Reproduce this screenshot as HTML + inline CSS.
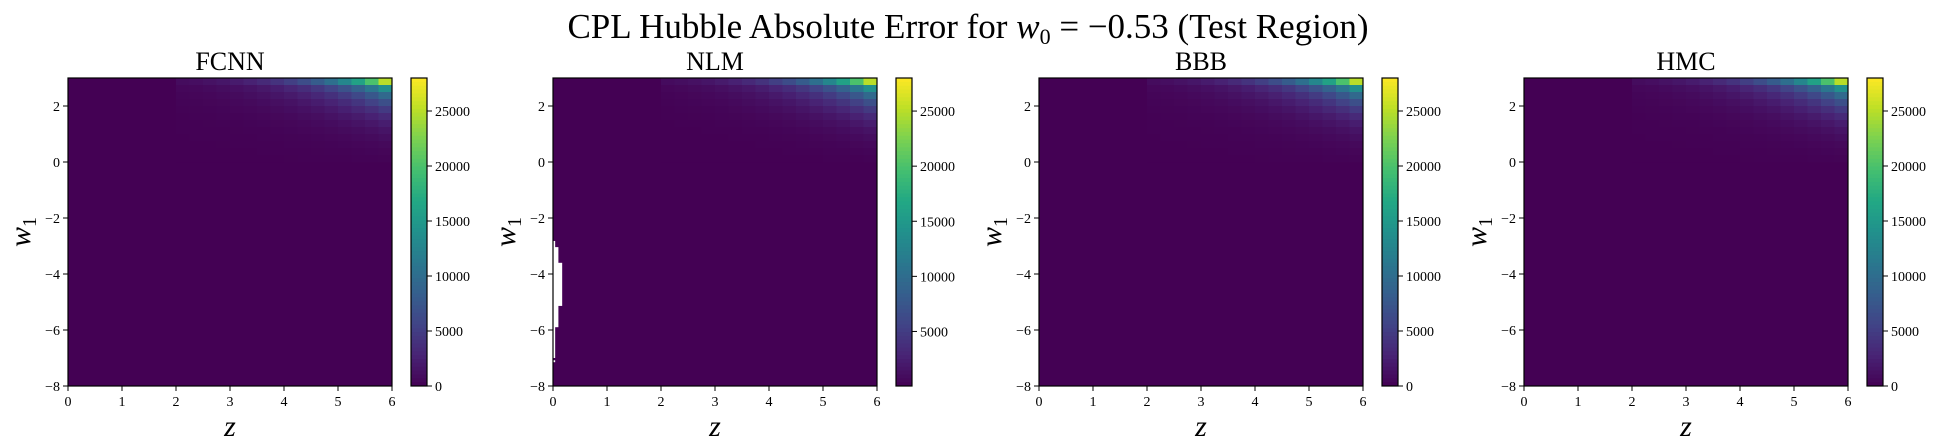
<!DOCTYPE html>
<html><head><meta charset="utf-8"><style>
html,body{margin:0;padding:0;background:#fff;}
svg{display:block;}
text{font-family:"Liberation Serif","DejaVu Serif",serif;fill:#000;}
</style></head><body>
<svg id="fig" width="1936" height="448" viewBox="0 0 1936 448" xmlns="http://www.w3.org/2000/svg">
<text x="968" y="38" font-size="35" text-anchor="middle">CPL Hubble Absolute Error for <tspan font-style="italic">w</tspan><tspan font-size="22" dy="6">0</tspan><tspan dy="-6"> = −0.53 (Test Region)</tspan></text>
</svg>
<script>
// ---- data ----
const panelTitles = ["FCNN", "NLM", "BBB", "HMC"];
const xTicks = [0, 1, 2, 3, 4, 5, 6];
const yTicks = [-8, -6, -4, -2, 0, 2];
const cbTicks = [0, 5000, 10000, 15000, 20000, 25000];
const cbTickLabels = ["0", "5000", "10000", "15000", "20000", "25000"];
const vmins = [0, 50, 0, 0];
const vmax = 28000;
// z-cell lower edges (width 0.25) for the coloured region, with column profile of error (top row)
const zCells = [2.0,2.25,2.5,2.75,3.0,3.25,3.5,3.75,4.0,4.25,4.5,4.75,5.0,5.25,5.5,5.75];
const topRowError = [860,1070,1340,1680,2100,2640,3300,4140,5180,6490,8120,10170,12740,15960,19980,25020];
// w1-cell upper edges (height 0.25) and relative scale per row
const w1Cells = [3.0,2.75,2.5,2.25,2.0,1.75,1.5,1.25,1.0,0.75,0.5,0.25];
const rowScale = [1,0.55,0.38,0.27,0.19,0.13,0.09,0.06,0.04,0.025,0.015,0.008];
// NLM invalid (white) region: [zMax, w1Low, w1High]
const nlmMask = [[0.04,-7.0,-2.82],[0.1,-5.9,-3.04],[0.17,-5.14,-3.6],[0.04,-7.15,-7.08]];

// ---- layout ----
const axLeft = [68, 553, 1039, 1524];
const axW = 324, axTop = 78, axBot = 386;
const cbOff = 343, cbW = 16;
const NS = "http://www.w3.org/2000/svg";
const svg = document.getElementById("fig");
const viridis = ["#440154","#482475","#414487","#355f8d","#2a788e","#21918c","#22a884","#44bf70","#7ad151","#bddf26","#fde725"];
function cmap(t){t=Math.max(0,Math.min(1,t));const p=t*(viridis.length-1);const i=Math.min(Math.floor(p),viridis.length-2);const f=p-i;
 const a=viridis[i],b=viridis[i+1];const c=k=>Math.round(parseInt(a.substr(k,2),16)*(1-f)+parseInt(b.substr(k,2),16)*f);
 return `rgb(${c(1)},${c(3)},${c(5)})`;}
function mk(tag,attrs,parent){const e=document.createElementNS(NS,tag);for(const k in attrs)e.setAttribute(k,attrs[k]);(parent||svg).appendChild(e);return e;}

panelTitles.forEach((title,p)=>{
 const L=axLeft[p];
 const xs=v=>L+v/6*axW;
 const ys=v=>axTop+(3-v)/11*(axBot-axTop);
 const g=mk("g",{});
 
 
 const bg=mk("rect",{x:L,y:axTop,width:axW,height:axBot-axTop,fill:cmap(0)},g);
 
 
 const vmin=vmins[p];
 w1Cells.forEach((w,j)=>{zCells.forEach((z,i)=>{
   const val=topRowError[i]*rowScale[j];
   const x0=xs(z),x1=xs(z+0.25),y0=ys(w),y1=ys(w-0.25);
   const r=mk("rect",{x:x0,y:y0,width:x1-x0+0.4,height:y1-y0+0.4,fill:cmap((val-vmin)/(vmax-vmin))},g);
   
   
 });});
 if(title==="NLM"){nlmMask.forEach(m=>{
   const r=mk("rect",{x:xs(0),y:ys(m[2]),width:xs(m[0])-xs(0),height:ys(m[1])-ys(m[2]),fill:"#fff"},g);
   
   
 });}
 const fr=mk("rect",{x:L,y:axTop,width:axW,height:axBot-axTop,fill:"none",stroke:"#000","stroke-width":1.2},g);
 
 
 xTicks.forEach(t=>{
   mk("line",{x1:xs(t),x2:xs(t),y1:axBot,y2:axBot+5,stroke:"#000","stroke-width":1},g);
   const tx=mk("text",{x:xs(t),y:axBot+20,"font-size":14,"text-anchor":"middle"},g);tx.textContent=t;
   
   
 });
 yTicks.forEach(t=>{
   mk("line",{x1:L-5,x2:L,y1:ys(t),y2:ys(t),stroke:"#000","stroke-width":1},g);
   const tx=mk("text",{x:L-8,y:ys(t)+5,"font-size":14,"text-anchor":"end"},g);tx.textContent=(t<0?"−":"")+Math.abs(t);
   
   
 });
 const tt=mk("text",{x:L+axW/2,y:70,"font-size":26,"text-anchor":"middle"},g);tt.textContent=title;
 
 
 const xl=mk("text",{x:L+axW/2,y:436,"font-size":30,"font-style":"italic","text-anchor":"middle"},g);xl.textContent="z";
 
 
 const yl=mk("text",{x:0,y:0,"font-size":30,"text-anchor":"middle",transform:`translate(${L-38},${(axTop+axBot)/2}) rotate(-90)`},g);
 yl.innerHTML='<tspan font-style="italic">w</tspan><tspan font-size="20" dy="6">1</tspan>';
 
 
 // colorbar
 const cx=L+cbOff;
 const cb=mk("g",{},g);
 
 
 const cys=v=>axBot-(v-vmin)/(vmax-vmin)*(axBot-axTop);
 for(let k=0;k<80;k++){const y0=axTop+k*(axBot-axTop)/80;
   mk("rect",{x:cx,y:y0,width:cbW,height:(axBot-axTop)/80+0.5,fill:cmap(1-(k+0.5)/80)},cb);}
 mk("rect",{x:cx,y:axTop,width:cbW,height:axBot-axTop,fill:"none",stroke:"#000","stroke-width":1.2},cb);
 cbTicks.forEach((t,k)=>{if(t<vmin)return;
   mk("line",{x1:cx+cbW,x2:cx+cbW+5,y1:cys(t),y2:cys(t),stroke:"#000","stroke-width":1},cb);
   const tx=mk("text",{x:cx+cbW+8,y:cys(t)+5,"font-size":14},cb);tx.textContent=cbTickLabels[k];
   
   
 });
});
</script>
</body></html>
